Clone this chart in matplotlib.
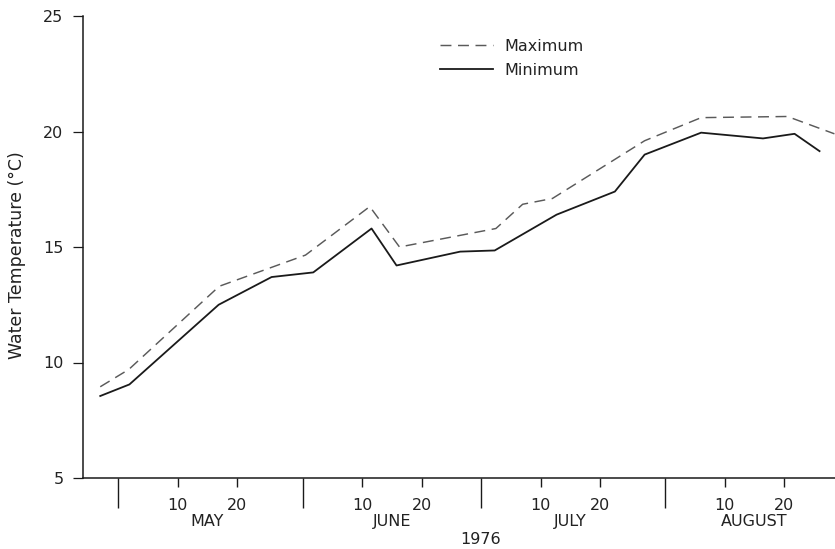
import matplotlib
matplotlib.use("Agg")
import matplotlib.pyplot as plt

# ---- data (x = days after 30 April 1976, y = water temperature in deg C) ----
max_day = [-3, 1.8, 17, 31.5, 42.3, 47.3, 63.5, 68, 73, 88.5, 98, 112.5, 120.4]
max_temp = [8.95, 9.7, 13.3, 14.65, 16.75, 15.0, 15.8, 16.85, 17.1, 19.6, 20.6, 20.65, 19.9]

min_day = [-3, 1.9, 16.9, 25.8, 32.8, 42.6, 46.8, 57.5, 63.3, 73.7, 83.5, 88.5, 98, 108.4, 113.7, 117.9]
min_temp = [8.55, 9.05, 12.5, 13.7, 13.9, 15.8, 14.2, 14.8, 14.85, 16.4, 17.4, 19.0, 19.95, 19.7, 19.9, 19.15]

month_names = ["MAY", "JUNE", "JULY", "AUGUST"]
month_starts = [0, 31, 61, 92]
day_labels = ["10", "20"]
day_offsets = [10, 20]
y_ticks = [5, 10, 15, 20, 25]
year_label = "1976"
y_label = "Water Temperature (°C)"

TXT = "#222222"
FS = 11.5

fig = plt.figure(figsize=(8.35, 5.49), dpi=100)
fig.patch.set_facecolor("white")
ax = fig.add_axes([83 / 835, 71 / 549, 752 / 835, 462 / 549])

ax.plot(max_day, max_temp, color="#5a5a5a", lw=1.05, dashes=(7.5, 4.5), label="Maximum")
ax.plot(min_day, min_temp, color="#1a1a1a", lw=1.3, label="Minimum")

ax.set_xlim(-5.9, 120.5)
ax.set_ylim(5, 25)

for s in ["top", "right"]:
    ax.spines[s].set_visible(False)
for s in ["left", "bottom"]:
    ax.spines[s].set_linewidth(1.1)
    ax.spines[s].set_color("#1a1a1a")

ax.set_yticks(y_ticks)
ax.set_yticklabels([str(v) for v in y_ticks])
ax.tick_params(axis="y", direction="out", length=7, width=0.9, pad=7,
               labelsize=FS, labelcolor=TXT, color="#1a1a1a")

# 10 / 20 day ticks with labels
major_pos = [m + d for m in month_starts for d in day_offsets]
major_lab = [lab for m in month_starts for lab in day_labels]
ax.set_xticks(major_pos)
ax.set_xticklabels(major_lab)
ax.tick_params(axis="x", which="major", direction="out", length=6.5, width=1.0,
               pad=8, labelsize=FS, labelcolor=TXT, color="#1a1a1a")
# long month-boundary ticks
ax.set_xticks(month_starts, minor=True)
ax.tick_params(axis="x", which="minor", direction="out", length=21.5, width=1.0,
               color="#1a1a1a")

xt = ax.get_xaxis_transform()
for m, name in zip(month_starts, month_names):
    ax.text(m + 15, -0.0946, name, transform=xt, ha="center", va="center",
            fontsize=FS, color=TXT)
ax.text(month_starts[2], -0.134, year_label, transform=xt, ha="center", va="center",
        fontsize=FS, color=TXT)

fig.text(17 / 835, (549 - 255) / 549, y_label, rotation=90, ha="center", va="center",
         fontsize=12.5, color=TXT)

ax.legend(loc="upper left", bbox_to_anchor=(440 / 835, (549 - 39) / 549),
          bbox_transform=fig.transFigure, frameon=False, handlelength=3.3,
          handletextpad=0.75, labelspacing=0.55, borderpad=0, borderaxespad=0,
          fontsize=11.5, labelcolor=TXT)

fig.savefig("out.png", dpi=100, facecolor="white")
